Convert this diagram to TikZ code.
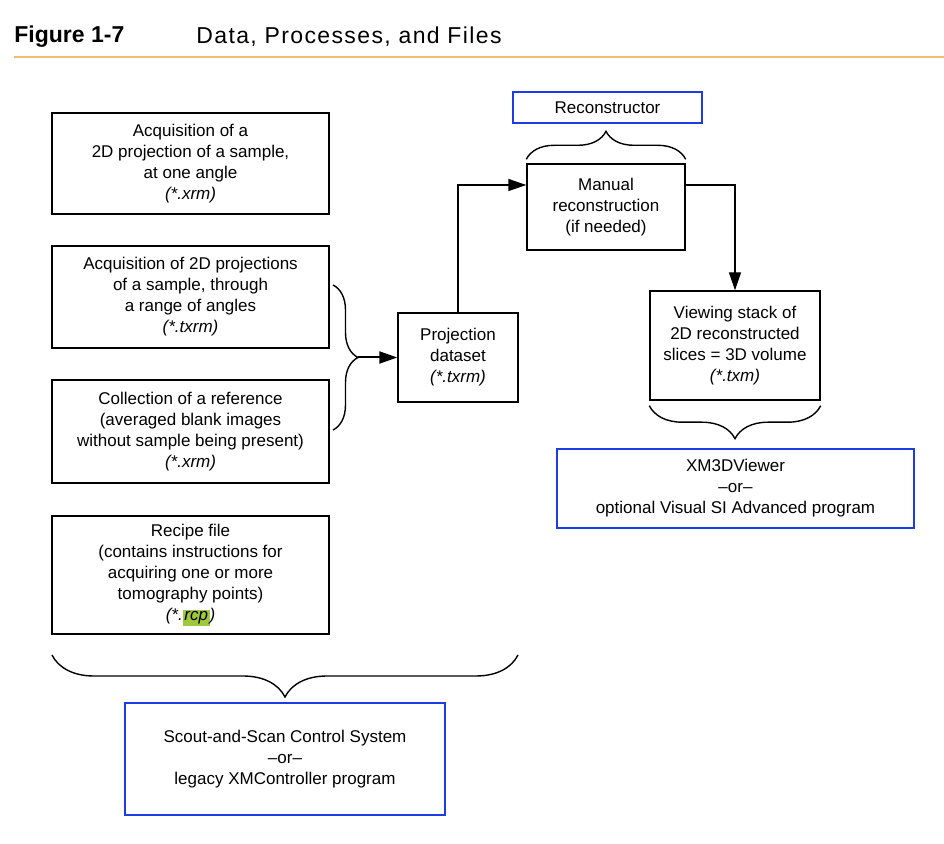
\documentclass[tikz,border=0pt]{standalone}
\usepackage{fontspec}
\setmainfont{Liberation Sans}
\usetikzlibrary{arrows.meta,decorations.pathreplacing}
\definecolor{toolblue}{RGB}{30,60,230}
\definecolor{ruleorange}{RGB}{238,190,110}
\definecolor{rcpgreen}{RGB}{160,200,60}

\begin{document}
\begin{tikzpicture}
[
    x=0.5pt, y=-0.5pt,
    every node/.style={font=\fontsize{8.5}{10.5}\selectfont, align=center},
    filebox/.style={draw, line width=0.7pt, inner sep=0pt},
    toolbox/.style={draw=toolblue, line width=1pt, inner sep=0pt},
    flow/.style={line width=0.7pt, -{Triangle[length=9pt, width=6pt]}},
    grouping/.style={line width=0.7pt, decorate, decoration={brace, amplitude=#1}},
]
\useasboundingbox (0,0) rectangle (944,844);

\node (fignum) [anchor=west, inner sep=0pt, font=\fontsize{11.5}{14}\selectfont\bfseries] at (14,37) {Figure 1-7};
\node (figtitle) [anchor=west, inner sep=0pt, font=\fontsize{11.5}{14}\selectfont\addfontfeature{LetterSpace=6}] at (196,37) {Data, Processes, and Files};
\draw [ruleorange, line width=0.6pt] (14,57) -- (944,57);

\node (acqone) [filebox, minimum width=138.5pt, minimum height=50.5pt] at (190.5,163.5)
    {Acquisition of a\\2D projection of a sample,\\at one angle\\\textit{(*.xrm)}};
\node (acqrange) [filebox, minimum width=138.5pt, minimum height=51pt] at (190.5,297)
    {Acquisition of 2D projections\\of a sample, through\\a range of angles\\\textit{(*.txrm)}};
\node (collref) [filebox, minimum width=138.5pt, minimum height=51.5pt] at (190.5,431.5)
    {Collection of a reference\\(averaged blank images\\without sample being present)\\\textit{(*.xrm)}};
\node (recipe) [filebox, minimum width=138.5pt, minimum height=59pt] at (190.5,575)
    {Recipe file\\(contains instructions for\\acquiring one or more\\tomography points)\\\textit{(*.{\setlength{\fboxsep}{0.8pt}\colorbox{rcpgreen}{rcp}})}};
\node (projset) [filebox, minimum width=60pt, minimum height=44.5pt] at (458,357.5)
    {Projection\\dataset\\\textit{(*.txrm)}};
\node (manual) [filebox, minimum width=79pt, minimum height=43pt] at (606,207)
    {Manual\\reconstruction\\(if needed)};
\node (recon) [toolbox, minimum width=94.5pt, minimum height=15.5pt] at (607.5,107.5)
    {Reconstructor};
\node (viewing) [filebox, minimum width=85pt, minimum height=54.5pt] at (735,345.5)
    {Viewing stack of\\2D reconstructed\\slices = 3D volume\\\textit{(*.txm)}};
\node (viewer) [toolbox, minimum width=178.5pt, minimum height=39.5pt] at (735.5,488.5)
    {XM3DViewer\\–or–\\optional Visual SI Advanced program};
\node (scout) [toolbox, minimum width=160pt, minimum height=56pt] at (285,759)
    {Scout-and-Scan Control System\\–or–\\legacy XMController program};

\draw [grouping=12.5pt] (333,285) -- (333,430);
\coordinate (bracetip) at (358,357.5);
\draw [flow, line width=1pt] (bracetip) -- (projset.west);
\draw [flow] (projset.north) |- ([yshift=11pt]manual.west);
\draw [flow] ([yshift=11pt]manual.east) -| (viewing.north);

\draw [grouping=14pt] ([yshift=2pt]manual.north west) -- ([yshift=2pt]manual.north east);
\draw [grouping=16.5pt] ([yshift=-2.5pt]viewing.south east) -- ([yshift=-2.5pt]viewing.south west);
\draw [grouping=21pt] (518,655) -- (52,655);
\end{tikzpicture}
\end{document}
